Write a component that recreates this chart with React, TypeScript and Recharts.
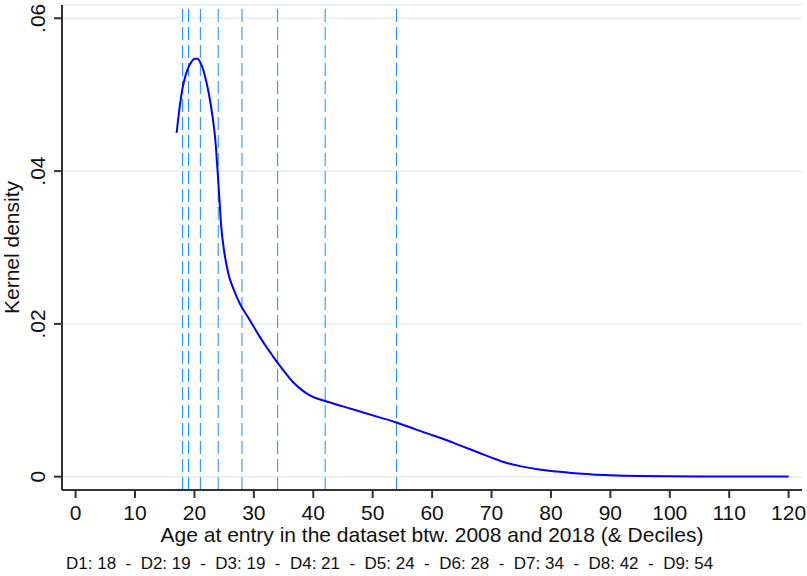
import { LineChart, Line, XAxis, YAxis, CartesianGrid, ReferenceLine } from "recharts";

// kernel density of age at entry
const ageValues = [
  17, 17.5, 18, 18.5, 19, 19.5, 20, 20.5, 21, 21.5, 22, 22.5, 23, 23.5, 24, 24.5, 25, 25.7, 26.6, 27.8,
  29, 30, 31, 32, 33, 34, 35.3, 36.7, 38, 39.5, 42, 45, 48, 51, 54, 56.5, 59, 62, 65, 68, 70, 72.6,
  75, 78, 81, 84, 87, 90, 95, 100, 105, 110, 115, 120,
];
const densityValues = [
  0.045, 0.0483, 0.0509, 0.0525, 0.0536, 0.0543, 0.0547, 0.0547, 0.0542, 0.0532, 0.0517, 0.0498, 0.0474, 0.0442,
  0.0388, 0.0328, 0.0295, 0.0266, 0.0245, 0.0224, 0.0209, 0.0196, 0.0183, 0.0171, 0.016, 0.0149, 0.0136,
  0.0123, 0.0114, 0.0106, 0.0099, 0.0092, 0.0085, 0.0078, 0.0071, 0.0064, 0.0057, 0.0049, 0.004, 0.0031,
  0.0025, 0.0018, 0.00135, 0.00095, 0.00068, 0.00045, 0.0003, 0.0002, 0.0001, 0.00006, 0.00004, 0.00003,
  0.00002, 0.00002,
];
const decileLabels = ["D1", "D2", "D3", "D4", "D5", "D6", "D7", "D8", "D9"];
const decileValues = [18, 19, 19, 21, 24, 28, 34, 42, 54];
const xTicks = [0, 10, 20, 30, 40, 50, 60, 70, 80, 90, 100, 110, 120];
const yTicks = [0, 0.02, 0.04, 0.06];

const data = ageValues.map((age, i) => ({ age, density: densityValues[i] }));
const decileNote = decileLabels.map((d, i) => `${d}: ${decileValues[i]}`).join("  -  ");

const FONT = "'Liberation Sans', Arial, Helvetica, sans-serif";
const AXIS = "#333";

const XTick = ({ x, y, payload }: any) => (
  <text x={x} y={y} dy={20} textAnchor="middle" fontSize={21} fontFamily={FONT} fill="#111">
    {payload.value}
  </text>
);

const YTick = ({ x, y, payload }: any) => {
  const label = payload.value === 0 ? "0" : payload.value.toFixed(2).replace(/^0/, "");
  return (
    <text x={x - 7} y={y} transform={`rotate(-90, ${x - 7}, ${y})`} textAnchor="middle" fontSize={21} fontFamily={FONT} fill="#111">
      {label}
    </text>
  );
};

const XLabel = ({ viewBox }: any) => {
  const cx = viewBox.x + viewBox.width / 2;
  return (
    <g fontFamily={FONT} fill="#111">
      <text x={cx} y={542} textAnchor="middle" fontSize={21}>
        Age at entry in the dataset btw. 2008 and 2018 (&amp; Deciles)
      </text>
      <text x={66} y={569} fontSize={17} style={{ whiteSpace: "pre" }}>
        {decileNote}
      </text>
    </g>
  );
};

const YLabel = ({ viewBox }: any) => {
  const cy = viewBox.y + viewBox.height / 2;
  return (
    <text x={19} y={cy} transform={`rotate(-90, 19, ${cy})`} textAnchor="middle" fontSize={21} fontFamily={FONT} fill="#111">
      Kernel density
    </text>
  );
};

export default function App() {
  return (
    <div style={{ position: "absolute", left: 0, top: 0, background: "#fff" }}>
      <LineChart width={807} height={576} data={data} margin={{ top: 5, right: 5, bottom: 0, left: 0 }}>
        <CartesianGrid vertical={false} stroke="#e8eff2" strokeWidth={1.5} />
        <XAxis
          dataKey="age"
          type="number"
          domain={[-2.29, 122.25]}
          ticks={xTicks}
          allowDataOverflow
          height={86}
          tickSize={8}
          tickMargin={2}
          stroke={AXIS}
          strokeWidth={2}
          tick={<XTick />}
          label={<XLabel />}
        />
        <YAxis
          type="number"
          domain={[-0.00174, 0.06174]}
          ticks={yTicks}
          allowDataOverflow
          width={62}
          tickSize={8}
          tickMargin={2}
          stroke={AXIS}
          strokeWidth={2}
          tick={<YTick />}
          label={<YLabel />}
        />
        {decileValues.map((d, i) => (
          <ReferenceLine key={`dec-${i}`} x={d} stroke="#1a8cff" strokeWidth={1} strokeDasharray="13 5" />
        ))}
        <Line
          type="monotone"
          dataKey="density"
          stroke="#0000ff"
          strokeWidth={2}
          dot={false}
          isAnimationActive={false}
        />
      </LineChart>
    </div>
  );
}
